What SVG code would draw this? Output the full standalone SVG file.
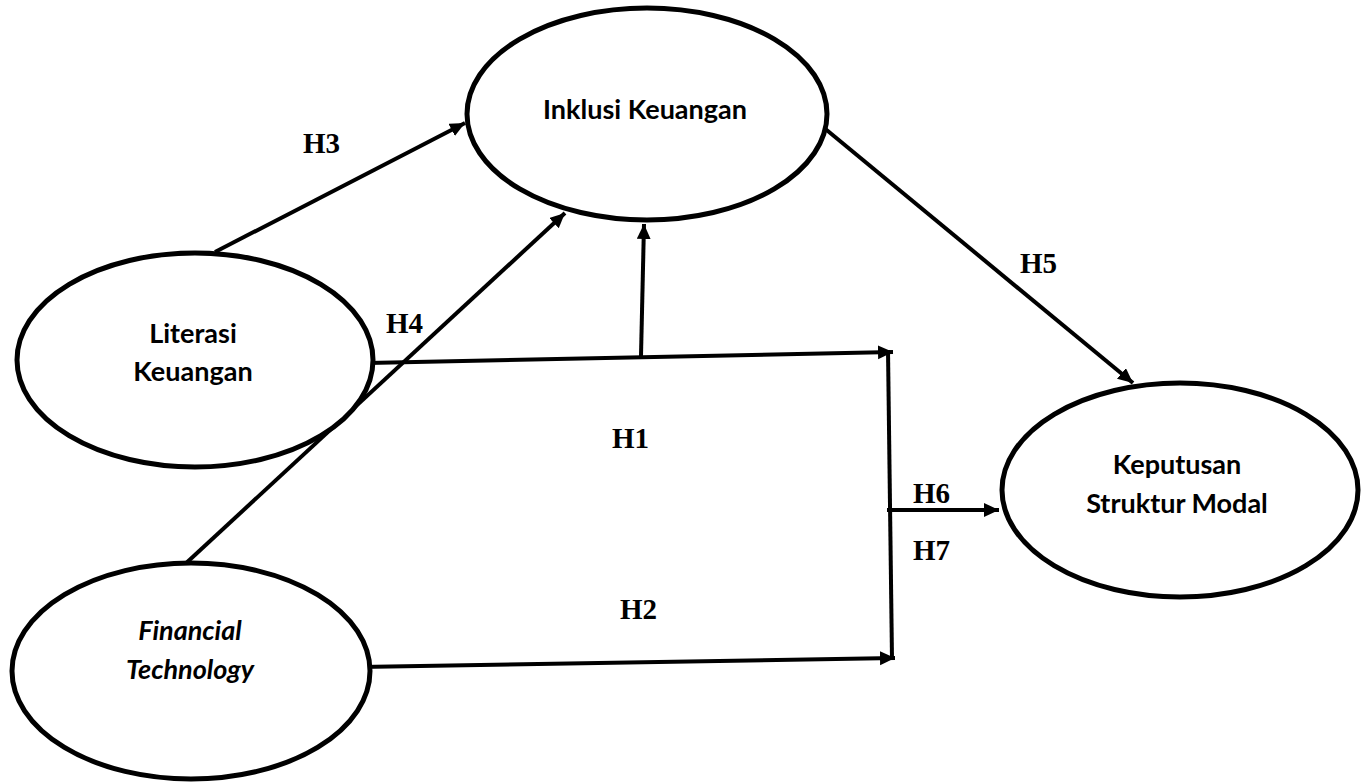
<svg xmlns="http://www.w3.org/2000/svg" width="1364" height="782" viewBox="0 0 1364 782">
<style>
.node{fill:#fff;stroke:#000;stroke-width:5}
.lbl{font-family:Lato,"Open Sans",sans-serif;font-weight:bold;font-size:27px;fill:#000;text-anchor:middle}
.it{font-style:italic}
.h{font-family:"Liberation Serif","Times New Roman",serif;font-weight:bold;font-size:29px;fill:#000}
.c{fill:none;stroke:#000;stroke-width:4}
</style>
<defs>
<marker id="ah" markerUnits="userSpaceOnUse" markerWidth="16" markerHeight="15" refX="15" refY="7" orient="auto">
<path d="M0,0 L15,7 L0,14 z" fill="#000"/>
</marker>
</defs>
<rect width="1364" height="782" fill="#fff"/>
<g id="connectors">
<line class="c" x1="215" y1="252" x2="465" y2="123" marker-end="url(#ah)"/>
<line class="c" x1="183" y1="566" x2="565" y2="213" marker-end="url(#ah)"/>
<line class="c" x1="368" y1="363" x2="893" y2="352" marker-end="url(#ah)"/>
<line class="c" x1="641" y1="356" x2="644" y2="224" marker-end="url(#ah)"/>
<line class="c" x1="888" y1="350" x2="892" y2="659"/>
<line class="c" x1="360" y1="667" x2="895" y2="658" marker-end="url(#ah)"/>
<line class="c" x1="887" y1="510" x2="999" y2="510" marker-end="url(#ah)"/>
<line class="c" x1="823" y1="127" x2="1133" y2="383" marker-end="url(#ah)"/>
</g>
<g id="inklusi">
<ellipse class="node" cx="647" cy="114" rx="180" ry="106"/>
<text class="lbl" x="645" y="119">Inklusi Keuangan</text>
</g>
<g id="literasi">
<ellipse class="node" cx="195" cy="360" rx="178" ry="107"/>
<text class="lbl" x="193" y="343">Literasi</text>
<text class="lbl" x="193" y="381">Keuangan</text>
</g>
<g id="fintech">
<ellipse class="node" cx="191" cy="671" rx="179" ry="108"/>
<text class="lbl it" x="190" y="640">Financial</text>
<text class="lbl it" x="190" y="679">Technology</text>
</g>
<g id="keputusan">
<ellipse class="node" cx="1180" cy="490" rx="178" ry="107"/>
<text class="lbl" x="1177" y="474">Keputusan</text>
<text class="lbl" x="1177" y="513">Struktur Modal</text>
</g>
<g id="labels">
<text class="h" x="303" y="153">H3</text>
<text class="h" x="386" y="333">H4</text>
<text class="h" x="1020" y="273">H5</text>
<text class="h" x="612" y="448">H1</text>
<text class="h" x="913" y="503">H6</text>
<text class="h" x="913" y="560">H7</text>
<text class="h" x="620" y="619">H2</text>
</g>
</svg>
